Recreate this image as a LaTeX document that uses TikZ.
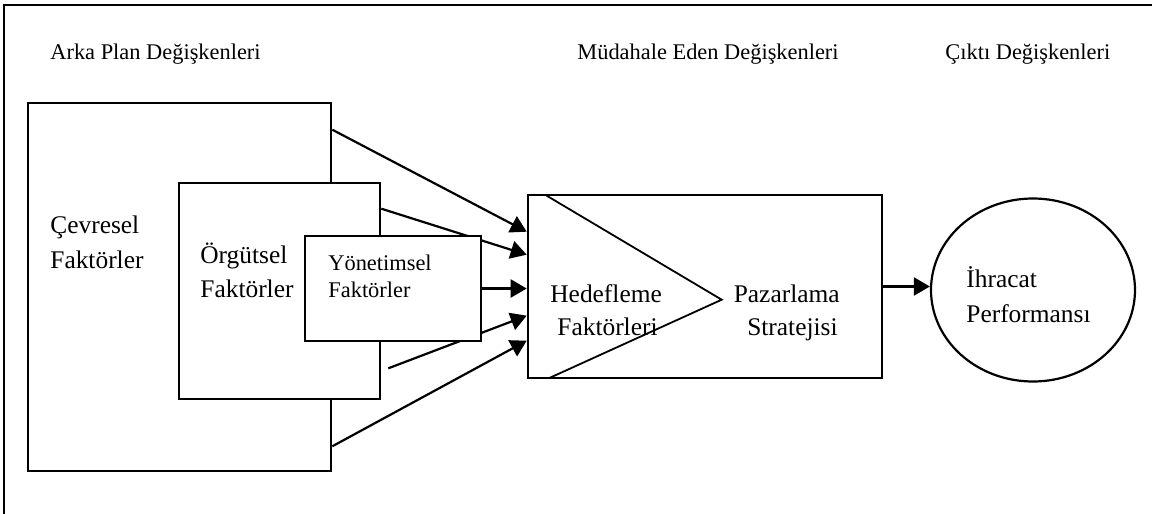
\documentclass[tikz,border=0pt]{standalone}
\usepackage{fontspec}
\setmainfont{Liberation Serif}
\usetikzlibrary{arrows.meta,calc,shapes.geometric}
\begin{document}
\begin{tikzpicture}[x=0.5pt,y=-0.5pt,
  box/.style={draw,line width=1.3pt,fill=white,inner sep=0pt,rectangle},
  arr/.style={line width=1.1pt,-{Triangle[length=8pt,width=9pt]}},
  hdr/.style={anchor=base west,inner sep=0pt,font=\fontsize{11.2}{13}\selectfont},
  lbl/.style={anchor=base west,inner sep=0pt,font=\fontsize{12.7}{15}\selectfont},
  lblr/.style={lbl,anchor=base east},
  sml/.style={anchor=base west,inner sep=0pt,font=\fontsize{11.2}{13}\selectfont}]
\useasboundingbox (0,0) rectangle (1152,514);

% open frame: left and top sides only
\coordinate (fbl) at (4,514);
\coordinate (ftl) at (4,5);
\coordinate (ftr) at (1152,5);
\draw[line width=1.3pt] (fbl) -- (ftl) -- (ftr);

% column headings
\node[hdr] (h1) at (50,59) {Arka Plan Değişkenleri};
\node[hdr] (h2) at (577,59) {Müdahale Eden Değişkenleri};
\node[hdr] (h3) at (945,59) {Çıktı Değişkenleri};

% nested factor boxes and the strategy box
\node[box,minimum width=151.5pt,minimum height=184pt] (cev) at (179.5,287) {};
\node[box,minimum width=100.5pt,minimum height=108pt] (org) at (279.5,291) {};
\node[box,minimum width=177pt,minimum height=91.5pt] (hed) at (705,286.5) {};
\node[draw,ellipse,line width=1.1pt,inner sep=0pt,minimum width=102pt,minimum height=91.5pt] (ihr) at (1033,290) {};

% arrows into the strategy box (two of them run behind the inner box)
\draw[arr] ($(cev.north east)+(0,28)$) -- ($(hed.north west)+(0,38)$);
\draw[arr] ($(org.north east)+(0,27)$) -- ($(hed.north west)+(0,61)$);
\draw[arr] ($(org.south east)+(7,-32)$) -- ($(hed.north west)+(0,122)$);
\draw[arr] ($(cev.south east)+(0,-26)$) -- ($(hed.north west)+(0,147)$);

\node[box,minimum width=88pt,minimum height=52.5pt] (yon) at (393,288.5) {};
\draw[arr] (yon.east) -- (yon.east -| hed.west);

% arrow to the outcome
\draw[arr] (hed.east) -- (hed.east -| ihr.west);

% targeting wedge inside the strategy box
\coordinate (t1) at ($(hed.north west)+(20,2)$);
\coordinate (t2) at ($(hed.north west)+(195,106)$);
\coordinate (t3) at ($(hed.south west)+(22,-1)$);
\draw[line width=0.9pt] (t1) -- (t2) -- (t3);

% labels
\node[lbl] (c1) at (50,233) {Çevresel};
\node[lbl] (c2) at (50,268) {Faktörler};
\node[lbl] (o1) at (200,263) {Örgütsel};
\node[lbl] (o2) at (200,297) {Faktörler};
\node[sml] (y1) at (328,270) {Yönetimsel};
\node[sml] (y2) at (328,297) {Faktörler};
\node[lbl] (e1) at (550,302) {Hedefleme};
\node[lbl] (e2) at (557,335) {Faktörleri};
\node[lblr] (p1) at (840,302) {Pazarlama};
\node[lblr] (p2) at (838,335) {Stratejisi};
\node[lbl] (i1) at (966,287) {İhracat};
\node[lbl] (i2) at (966,322) {Performansı};
\end{tikzpicture}
\end{document}
